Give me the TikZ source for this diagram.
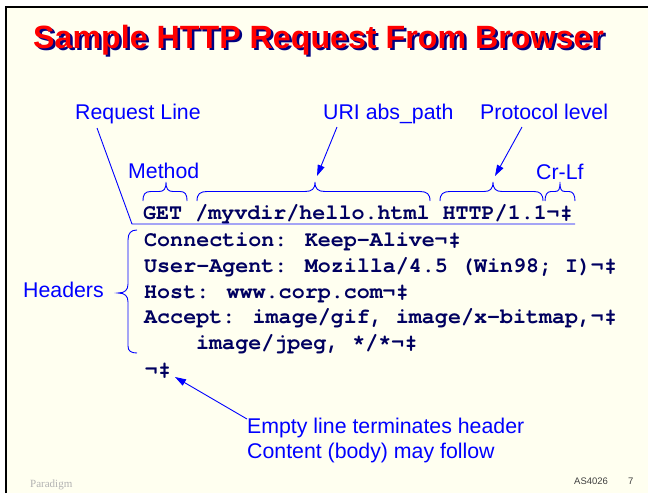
\documentclass[tikz,border=0pt]{standalone}
\usepackage{fontspec}
\setmainfont{Liberation Sans}
\newfontfamily\codefont{texgyrecursor}[Extension=.otf, UprightFont=*-bold, BoldFont=*-bold]
\newfontfamily\serfont{Liberation Serif}
\usetikzlibrary{arrows.meta}
\definecolor{bgcream}{RGB}{255,255,240}
\definecolor{lblblue}{RGB}{0,0,255}
\definecolor{codenavy}{RGB}{0,0,96}
\definecolor{shadowblue}{RGB}{0,0,128}
\definecolor{titlered}{RGB}{255,0,0}
\tikzset{
  lbl/.style={anchor=base west, inner sep=0pt, text=lblblue, font=\fontsize{21.3}{24}\selectfont},
  code/.style={anchor=base west, inner sep=0pt, text=codenavy, font=\codefont\fontsize{21.7}{26}\selectfont},
  bline/.style={draw=lblblue, line width=0.9pt},
  arr/.style={bline, -{Triangle[length=11pt,width=7pt]}},
}
\begin{document}
\begin{tikzpicture}[x=1pt,y=-1pt]
\useasboundingbox (0,0) rectangle (648,493);
\fill[white] (0,0) rectangle (648,493);
\fill[bgcream] (6,7) rectangle (648,493);
\draw[black, line width=1.6pt] (6,493) -- (6,7) -- (648,7);
% title
\node[anchor=base west, inner sep=0pt, text=shadowblue, font=\bfseries\fontsize{32.2}{36}\selectfont] (titleshadow) at (35.5,50.5) {Sample HTTP Request From Browser};
\node[anchor=base west, inner sep=0pt, text=titlered, font=\bfseries\fontsize{32.2}{36}\selectfont] (title) at (33,48) {Sample HTTP Request From Browser};
% labels
\node[lbl] (reqline) at (75,119) {Request Line};
\node[lbl] (uri) at (323,119) {URI abs\_path};
\node[lbl] (proto) at (480,119) {Protocol level};
\node[lbl] (method) at (128,178) {Method};
\node[lbl] (crlf) at (536,179) {Cr-Lf};
\node[lbl] (headers) at (23,297) {Headers};
\node[lbl] (empty1) at (247,433) {Empty line terminates header};
\node[lbl] (empty2) at (247,458) {Content (body) may follow};
% code
\node[code] (getline) at (143,219) {GET /myvdir/hello.html HTTP/1.1¬‡};
\node[code] (h1) at (144,246) {Connection: Keep-Alive¬‡};
\node[code] (h2) at (144,272) {User-Agent: Mozilla/4.5 (Win98; I)¬‡};
\node[code] (h3) at (144,298) {Host: www.corp.com¬‡};
\node[code] (h4) at (144,323) {Accept: image/gif, image/x-bitmap,¬‡};
\node[code] (h5) at (196,349) {image/jpeg, */*¬‡};
\node[code] (blank) at (145,376) {¬‡};
% request line pointer
\coordinate (rlA) at (97,128);
\coordinate (rlB) at (132,224);
\coordinate (rlC) at (575,224);
\draw[bline] (rlA) -- (rlB) -- (rlC);
% arrows
\coordinate (uriS) at (337,127);
\coordinate (uriE) at (317,176);
\draw[arr] (uriS) -- (uriE);
\coordinate (protoS) at (522,127);
\coordinate (protoE) at (495,176);
\draw[arr] (protoS) -- (protoE);
\coordinate (emptyS) at (247,419);
\coordinate (emptyE) at (175,377);
\draw[arr] (emptyS) -- (emptyE);
% braces over request line
\draw[bline] (143,201) .. controls (143,194) and (145,191.5) .. (151,191.5) -- (159,191.5) .. controls (164,191.5) and (166,189) .. (166,182) .. controls (166,189) and (168,191.5) .. (173,191.5) -- (180,191.5) .. controls (185,191.5) and (187,194) .. (187,201);
\draw[bline] (197,201) .. controls (197,194) and (200,191.5) .. (207,191.5) -- (305,191.5) .. controls (312,191.5) and (315,189) .. (315,182) .. controls (315,189) and (318,191.5) .. (325,191.5) -- (420,191.5) .. controls (427,191.5) and (430,194) .. (430,201);
\draw[bline] (440,201) .. controls (440,194) and (443,191.5) .. (450,191.5) -- (484,191.5) .. controls (490,191.5) and (493,189) .. (493,182) .. controls (493,189) and (496,191.5) .. (502,191.5) -- (534,191.5) .. controls (540,191.5) and (543,194) .. (543,201);
\draw[bline] (545,201) .. controls (545,195) and (547,191.5) .. (551,191.5) -- (555,191.5) .. controls (559,191.5) and (560,189) .. (560,182) .. controls (560,189) and (561,191.5) .. (565,191.5) -- (569,191.5) .. controls (573,191.5) and (575,195) .. (575,201);
% headers brace
\draw[bline] (137,230) .. controls (131,230) and (128,233) .. (128,240) -- (128,284) .. controls (128,290) and (125,293) .. (118,293) .. controls (125,293) and (128,296) .. (128,302) -- (128,346) .. controls (128,351) and (131,353) .. (137,353);
% footer
\node[anchor=base west, inner sep=0pt, text=black!30, font=\serfont\fontsize{11}{12}\selectfont] (paradigm) at (30,487) {Paradigm};
\node[anchor=base west, inner sep=0pt, text=black!75, font=\fontsize{9.5}{11}\selectfont] (course) at (574,484) {AS4026};
\node[anchor=base west, inner sep=0pt, text=black!75, font=\fontsize{9.5}{11}\selectfont] (pagenum) at (628,484) {7};
\end{tikzpicture}
\end{document}
